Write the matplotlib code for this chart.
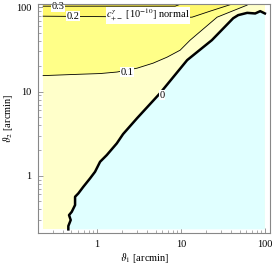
import matplotlib
matplotlib.use("Agg")
import matplotlib.pyplot as plt
from matplotlib.patches import Polygon
from matplotlib.ticker import LogLocator, FixedLocator, FixedFormatter, NullFormatter

plt.rcParams['font.family'] = ['Liberation Serif', 'DejaVu Serif']
plt.rcParams['mathtext.fontset'] = 'stix'

# ---- data (arcmin) ----
zero_x = [0.459, 0.459, 0.490, 0.468, 0.504, 0.552, 0.552, 0.604, 0.692, 0.832, 0.954,
          1.095, 1.315, 1.730, 2.056, 3.02, 5.67, 11.9, 23.4, 42.0, 48.1, 61.5, 76.7, 87.9, 100.0]
zero_y = [0.231, 0.253, 0.298, 0.341, 0.373, 0.449, 0.563, 0.618, 0.740, 0.931, 1.116,
          1.467, 1.762, 2.426, 3.13, 4.84, 9.60, 23.7, 40.9, 74.6, 81.1, 86.3, 84.9, 90.4, 84.9]

c01_x = [0.23, 0.633, 1.095, 1.74, 3.02, 4.68, 6.87, 9.82, 12.9, 27.0, 61.5]
c01_y = [15.5, 16.1, 16.4, 17.1, 19.0, 21.8, 25.7, 31.1, 40.9, 76.7, 106.7]

c02_x = [0.23, 1.256, 4.31, 13.6, 22.3, 38.6]
c02_y = [78.8, 77.8, 74.6, 76.7, 90.4, 107.9]

c03_x = [0.23, 8.55, 9.8]
c03_y = [103.6, 103.6, 109.0]

x_min, x_max = 0.23, 100.0
y_min, y_max = 0.231, 110.0

levels = ["0", "0.1", "0.2", "0.3"]
level_label_x = [5.99, 2.30, 0.522, 0.346]
level_label_y = [9.09, 17.1, 78.8, 102.3]

tick_vals = [1, 10, 100]
tick_labels = ["1", "10", "100"]

col_neg = "#e0ffff"
col_0 = "#ffffca"
col_1 = "#ffff88"
col_2 = "#fff86c"
col_3 = "#fff050"

fig = plt.figure(figsize=(2.74, 2.68), dpi=100)
ax = fig.add_axes([38/274, 1-233/268, 232/274, 229/268])
ax.set_xscale('log')
ax.set_yscale('log')
ax.set_xlim(0.2, 115)
ax.set_ylim(0.209, 110)

ax.add_patch(Polygon([(x_min, y_min), (x_max, y_min), (x_max, y_max), (x_min, y_max)],
                     closed=True, facecolor=col_0, edgecolor='none', zorder=1))
neg = list(zip(zero_x, zero_y)) + [(x_max, y_min)]
ax.add_patch(Polygon(neg, closed=True, facecolor=col_neg, edgecolor='none', zorder=2))
r1 = list(zip(c01_x, c01_y)) + [(c01_x[-1], y_max), (x_min, y_max)]
ax.add_patch(Polygon(r1, closed=True, facecolor=col_1, edgecolor='none', zorder=3))
r2 = list(zip(c02_x, c02_y)) + [(c02_x[-1], y_max), (x_min, y_max)]
ax.add_patch(Polygon(r2, closed=True, facecolor=col_2, edgecolor='none', zorder=4))
r3 = list(zip(c03_x, c03_y)) + [(c03_x[-1], y_max), (x_min, y_max)]
ax.add_patch(Polygon(r3, closed=True, facecolor=col_3, edgecolor='none', zorder=5))

ax.plot(zero_x, zero_y, color='black', lw=1.8, zorder=6, solid_joinstyle='round')
ax.plot(c01_x, c01_y, color='black', lw=0.6, zorder=6)
ax.plot(c02_x, c02_y, color='black', lw=0.6, zorder=6)
ax.plot(c03_x, c03_y, color='black', lw=0.6, zorder=6)

for t, lx, ly in zip(levels, level_label_x, level_label_y):
    ax.text(lx, ly, t, fontsize=7.5, ha='center', va='center', zorder=8,
            bbox=dict(facecolor='white', edgecolor='none', pad=0.3))

ax.text(4.08, 81.1, r"$c^{\gamma}_{+-}$ [10$^{-10}$] normal", fontsize=7.5,
        ha='center', va='center', zorder=8,
        bbox=dict(facecolor='white', edgecolor='none', pad=0.3))

for s in ax.spines.values():
    s.set_color('#888888')
    s.set_linewidth(0.8)
    s.set_zorder(10)

ax.xaxis.set_major_locator(FixedLocator(tick_vals))
ax.xaxis.set_major_formatter(FixedFormatter(tick_labels))
ax.yaxis.set_major_locator(FixedLocator(tick_vals))
ax.yaxis.set_major_formatter(FixedFormatter(tick_labels))
ax.xaxis.set_minor_locator(LogLocator(base=10, subs=range(2, 10)))
ax.yaxis.set_minor_locator(LogLocator(base=10, subs=range(2, 10)))
ax.xaxis.set_minor_formatter(NullFormatter())
ax.yaxis.set_minor_formatter(NullFormatter())
ax.tick_params(which='both', direction='in', color='#888888', top=False, right=False,
               labelsize=7.5, zorder=11)
ax.tick_params(which='major', length=3.5, width=0.6, pad=5)
ax.tick_params(which='minor', length=2, width=0.5)

ax.set_xlabel(r"$\vartheta_1$ [arcmin]", fontsize=7.5)
ax.set_ylabel(r"$\vartheta_2$ [arcmin]", fontsize=7.5)
ax.xaxis.set_label_coords(0.461, -0.109)
ax.yaxis.set_label_coords(-0.129, 0.502)
ax.xaxis.label.set_va('center')
ax.yaxis.label.set_va('center')

fig.savefig("out.png", dpi=100)
